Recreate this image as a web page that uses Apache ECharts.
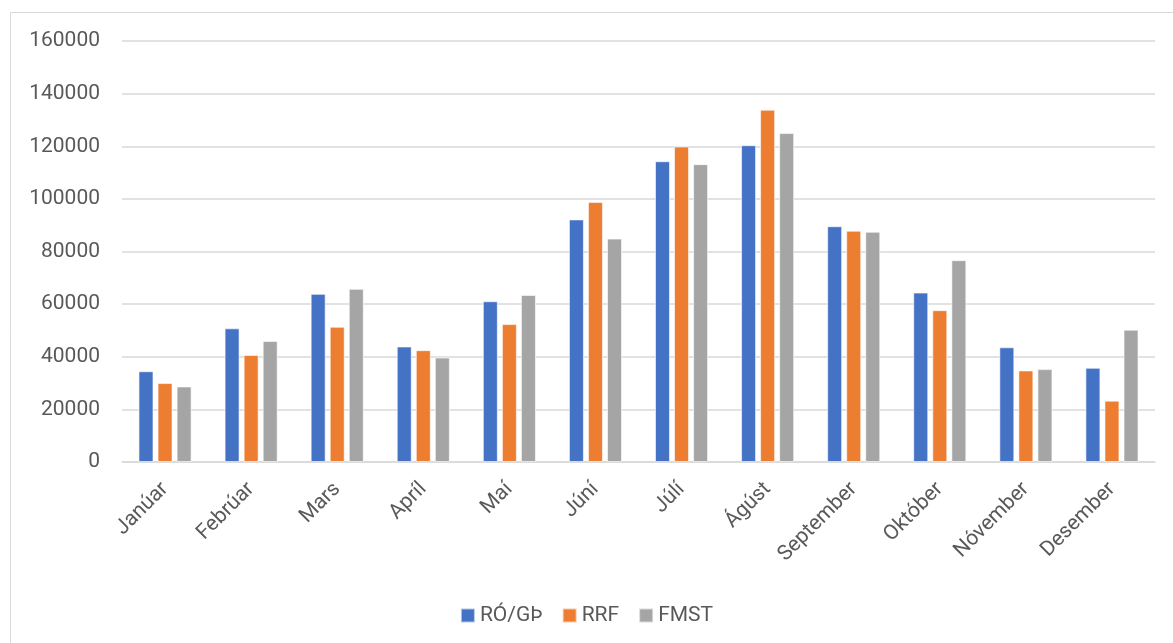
<!DOCTYPE html>
<html>
<head>
<meta charset="utf-8">
<script src="https://cdn.jsdelivr.net/npm/echarts@6/dist/echarts.min.js"></script>
<style>html,body{margin:0;padding:0;background:#fff}#c{width:1173px;height:643px}</style>
</head>
<body>
<div id="c"></div>
<script>
const categories = ['Janúar','Febrúar','Mars','Apríl','Maí','Júní','Júlí','Ágúst','September','Október','Nóvember','Desember'];
const seriesNames = ['RÓ/GÞ','RRF','FMST'];
const roGth = [34500, 50800, 63900, 43900, 61100, 92200, 114300, 120400, 89600, 64400, 43600, 35800];
const rrf   = [30000, 40700, 51400, 42500, 52400, 98800, 119900, 133900, 87900, 57700, 34800, 23300];
const fmst  = [28700, 46000, 65800, 39700, 63500, 84900, 113200, 125000, 87500, 76700, 35300, 50300];
const yTicks = [0, 20000, 40000, 60000, 80000, 100000, 120000, 140000, 160000];

const colors = ['#4472C4', '#ED7D31', '#A5A5A5'];
const font = 'Roboto';
const chart = echarts.init(document.getElementById('c'), null, {renderer: 'canvas'});
const mk = (name, data, i) => ({
  name, type: 'bar', data, barWidth: 15, barGap: '27%',
  itemStyle: {color: colors[i], borderColor: 'rgba(255,255,255,0.6)', borderWidth: 1}
});
chart.setOption({
  animation: false,
  color: colors,
  graphic: [{type: 'rect', shape: {x: 10.5, y: 12.5, width: 1300, height: 800},
    style: {fill: 'none', stroke: '#D9D9D9', lineWidth: 1}, silent: true}],
  grid: {left: 122, right: 18, top: 41, bottom: 181, containLabel: false},
  legend: {
    bottom: 12, left: 'center', itemWidth: 14, itemHeight: 14, itemGap: 19,
    icon: 'rect',
    textStyle: {fontFamily: font, fontSize: 21, color: '#595959'},
    data: seriesNames
  },
  xAxis: {
    type: 'category', data: categories,
    axisLine: {lineStyle: {color: '#D9D9D9', width: 1.5}},
    axisTick: {show: false},
    axisLabel: {rotate: 45, interval: 0, margin: 24, fontFamily: font, fontSize: 21, color: '#595959'}
  },
  yAxis: {
    type: 'value', min: yTicks[0], max: yTicks[yTicks.length - 1], interval: 20000,
    axisLine: {show: false}, axisTick: {show: false},
    splitLine: {lineStyle: {color: '#D9D9D9', width: 1.5}},
    axisLabel: {margin: 22, fontFamily: font, fontSize: 21, color: '#595959', formatter: v => String(v)}
  },
  series: [mk(seriesNames[0], roGth, 0), mk(seriesNames[1], rrf, 1), mk(seriesNames[2], fmst, 2)]
});
</script>
</body>
</html>
